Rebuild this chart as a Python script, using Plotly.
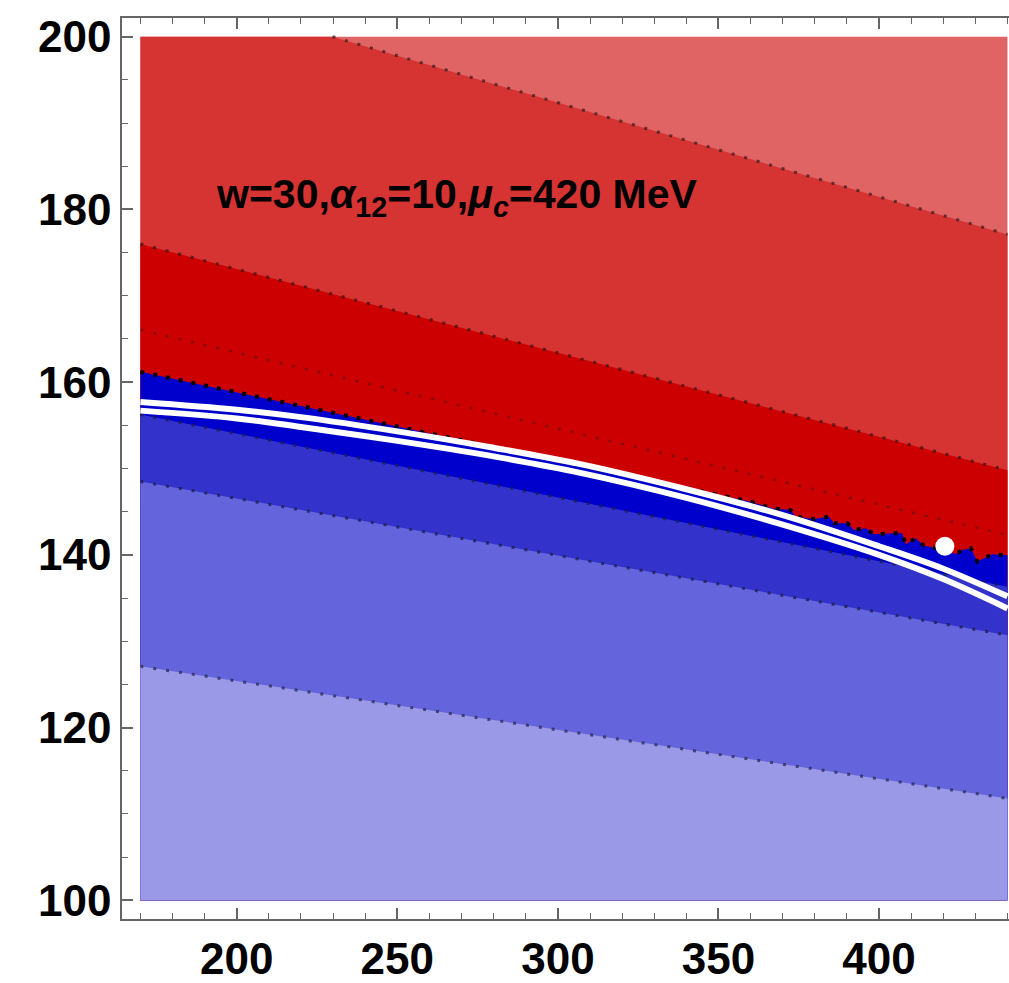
import plotly.graph_objects as go

# ---- data ----
X_MIN, X_MAX = 170, 440
Y_MIN, Y_MAX = 100, 200

band_colors = ["rgb(224,100,100)", "rgb(214,51,51)", "rgb(204,0,0)",
               "rgb(0,0,204)", "rgb(51,51,204)", "rgb(100,100,221)", "rgb(153,153,232)"]

# contour boundaries (top to bottom)
r1_x = [229.8, 440.0]
r1_y = [200.0, 177.1]
r2_x = [170.0, 440.0]
r2_y = [176.0, 149.8]
r3_x = [170.0, 440.0]
r3_y = [166.05, 142.3]
r4_x = [170.0, 360.0, 366.8, 372.5, 374.0, 379.8, 384.4, 386.0, 390.2, 392.2, 395.9,
        398.4, 404.7, 407.2, 408.3, 411.4, 414.0, 418.2, 423.9, 425.9, 428.6, 430.6,
        435.3, 440.0]
r4_y = [161.2, 146.15, 145.38, 145.19, 144.42, 144.15, 144.42, 143.65, 143.65, 142.88,
        143.07, 142.38, 142.49, 142.49, 141.22, 141.92, 141.07, 140.76, 140.1, 140.57,
        140.76, 139.22, 140.07, 139.95]
b1_x = [170.0, 440.0]
b1_y = [156.24, 136.3]
b2_x = [170.0, 440.0]
b2_y = [148.5, 130.7]
b3_x = [170.0, 440.0]
b3_y = [127.1, 111.8]

# white double curve
white_x = [170, 200, 220, 250, 280, 307, 340, 370, 400, 420, 440]
white_top_y = [157.7, 156.8, 155.95, 154.3, 152.4, 150.5, 147.6, 144.6, 141.0, 138.4, 135.2]
white_bot_y = [156.7, 155.8, 154.8, 153.2, 151.4, 149.5, 146.6, 143.5, 140.0, 137.2, 133.8]

point_x = [420.5]
point_y = [141.0]

x_ticks = [200, 250, 300, 350, 400]
y_ticks = [100, 120, 140, 160, 180, 200]

fig = go.Figure()

# background band
fig.add_trace(go.Scatter(x=[X_MIN, X_MAX, X_MAX, X_MIN, X_MIN],
                         y=[Y_MIN, Y_MIN, Y_MAX, Y_MAX, Y_MIN],
                         mode="lines", line=dict(width=0), fill="toself",
                         fillcolor=band_colors[0], hoverinfo="skip", showlegend=False))


def band_below(bx, by, color):
    px = list(bx)
    py = list(by)
    if px[0] > X_MIN:
        px = [X_MIN] + px
        py = [Y_MAX] + py
    px = px + [X_MAX, X_MIN, px[0]]
    py = py + [Y_MIN, Y_MIN, py[0]]
    fig.add_trace(go.Scatter(x=px, y=py, mode="lines", line=dict(width=0),
                             fill="toself", fillcolor=color,
                             hoverinfo="skip", showlegend=False))


band_below(r1_x, r1_y, band_colors[1])
band_below(r2_x, r2_y, band_colors[2])
band_below(r4_x, r4_y, band_colors[3])
band_below(b1_x, b1_y, band_colors[4])
band_below(b2_x, b2_y, band_colors[5])
band_below(b3_x, b3_y, band_colors[6])


def dotted(bx, by, color, w, dash):
    fig.add_trace(go.Scatter(x=bx, y=by, mode="lines",
                             line=dict(color=color, width=w, dash=dash),
                             hoverinfo="skip", showlegend=False))


dotted(r1_x, r1_y, "rgba(60,30,30,0.75)", 3, "3px,10px")
dotted(r2_x, r2_y, "rgba(60,20,20,0.75)", 3, "3px,10px")
dotted(r3_x, r3_y, "rgba(80,20,20,0.55)", 2.5, "3px,10px")
dotted(r4_x, r4_y, "rgba(0,0,0,0.95)", 4, "4px,9px")
dotted(b1_x, b1_y, "rgba(30,30,70,0.75)", 3, "3px,10px")
dotted(b2_x, b2_y, "rgba(30,30,70,0.75)", 3, "3px,10px")
dotted(b3_x, b3_y, "rgba(40,40,80,0.75)", 3, "3px,10px")

# white curves
fig.add_trace(go.Scatter(x=white_x, y=white_top_y, mode="lines",
                         line=dict(color="white", width=6, shape="spline"),
                         hoverinfo="skip", showlegend=False))
fig.add_trace(go.Scatter(x=white_x, y=white_bot_y, mode="lines",
                         line=dict(color="white", width=6, shape="spline"),
                         hoverinfo="skip", showlegend=False))

fig.add_trace(go.Scatter(x=point_x, y=point_y, mode="markers",
                         marker=dict(color="white", size=19, line=dict(width=0)),
                         hoverinfo="skip", showlegend=False))

fig.add_annotation(x=268.7, y=181.4, xref="x", yref="y",
                   text="<b>w=30,<i>α</i><sub>12</sub>=10,<i>μ</i><sub><i>c</i></sub>=420 MeV</b>",
                   showarrow=False,
                   font=dict(family="Liberation Sans, Arial, sans-serif", size=41, color="black"))

tickfont = dict(family="Liberation Sans, Arial, sans-serif", size=44, color="black", weight="bold")
frame_col = "#666666"

fig.update_xaxes(range=[164.27, 440.47], showgrid=False, zeroline=False,
                 showline=True, linecolor=frame_col, linewidth=1.5, mirror="ticks",
                 ticks="inside", ticklen=11, tickwidth=1.5, tickcolor=frame_col,
                 tickvals=x_ticks, tickfont=tickfont,
                 minor=dict(dtick=10, tick0=170, ticks="inside", ticklen=6,
                            tickwidth=1.2, tickcolor=frame_col, showgrid=False))
fig.update_yaxes(range=[97.84, 202.16], showgrid=False, zeroline=False,
                 showline=True, linecolor=frame_col, linewidth=1.5, mirror=False,
                 ticks="inside", ticklen=11, tickwidth=1.5, tickcolor=frame_col,
                 tickvals=y_ticks, tickfont=tickfont,
                 minor=dict(dtick=5, tick0=100, ticks="inside", ticklen=6,
                            tickwidth=1.2, tickcolor=frame_col, showgrid=False))

fig.update_layout(width=1009, height=983, margin=dict(l=122, r=0, t=18, b=61),
                  paper_bgcolor="white", plot_bgcolor="white", showlegend=False)

fig.write_html("out.html")
